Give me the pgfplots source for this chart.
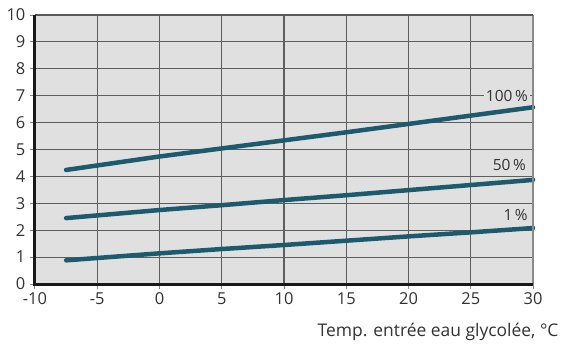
\documentclass[border=0pt]{standalone}
\usepackage{pgfplots}
\pgfplotsset{compat=1.18}
\usepackage{fontspec}
\setmainfont{Open Sans}
\definecolor{bg}{HTML}{E0E0E0}
\definecolor{grd}{HTML}{5E5E5E}
\definecolor{tk}{HTML}{8A8A8A}
\definecolor{ln}{HTML}{1E5A6E}
\definecolor{txt}{HTML}{333333}
\begin{document}
\begin{tikzpicture}[x=1bp,y=1bp]
\begin{axis}[
  scale only axis, width=498bp, height=269bp,
  xmin=-10, xmax=30, ymin=0, ymax=10,
  xtick={-10,-5,0,5,10,15,20,25,30},
  xticklabels={-10,-5,0,5,10,15,20,25,30},
  ytick={0,1,2,3,4,5,6,7,8,9,10},
  yticklabels={0,1,2,3,4,5,6,7,8,9,10},
  xtick pos=left, ytick pos=left,
  tick align=outside, major tick length=5bp,
  tick style={tk, line width=1bp},
  grid=major, grid style={grd, line width=1.1bp},
  axis background/.style={fill=bg},
  axis line style={draw=none},
  ticklabel style={font=\fontsize{16.5}{19}\selectfont, text=txt, inner sep=1bp},
  xticklabel style={yshift=-2.5bp},
  yticklabel style={xshift=-3.5bp},
  clip=false,
]
\addplot[ln, line width=4.5bp, line cap=round] coordinates {(-7.5,4.24) (0,4.74) (5,5.04) (10,5.34) (15,5.64) (20,5.95) (25,6.26) (30,6.57)};
\addplot[ln, line width=4.5bp, line cap=round] coordinates {(-7.5,2.45) (0,2.75) (5,2.93) (10,3.12) (15,3.30) (20,3.49) (25,3.68) (30,3.87)};
\addplot[ln, line width=4.5bp, line cap=round] coordinates {(-7.5,0.88) (0,1.14) (5,1.30) (10,1.45) (15,1.61) (20,1.77) (25,1.92) (30,2.08)};
\draw[color=tk, line width=2bp] (rel axis cs:1,0) -- (rel axis cs:1,1);
\draw[color=black!65, line width=2bp] (rel axis cs:0,1) -- (rel axis cs:1,1);
\draw[color=black!90, line width=3bp] (rel axis cs:0,1) -- (rel axis cs:0,0) -- (rel axis cs:1,0);
\node[fill=bg, inner sep=2bp, text=txt, font=\fontsize{15.5}{18}\selectfont] at (axis cs:27.9,7) {100\,\%};
\node[text=txt, font=\fontsize{15.5}{18}\selectfont] at (axis cs:28.1,4.42) {50\,\%};
\node[text=txt, font=\fontsize{15.5}{18}\selectfont] at (axis cs:28.6,2.57) {1\,\%};
\node[anchor=base east, text=txt, font=\fontsize{17.5}{20}\selectfont] at (rel axis cs:1,0) [xshift=29bp, yshift=-52bp] {Temp. entrée eau glycolée, °C};
\end{axis}
\pgfresetboundingbox
\path (-35,-60) rectangle (531,284);
\end{tikzpicture}
\end{document}
